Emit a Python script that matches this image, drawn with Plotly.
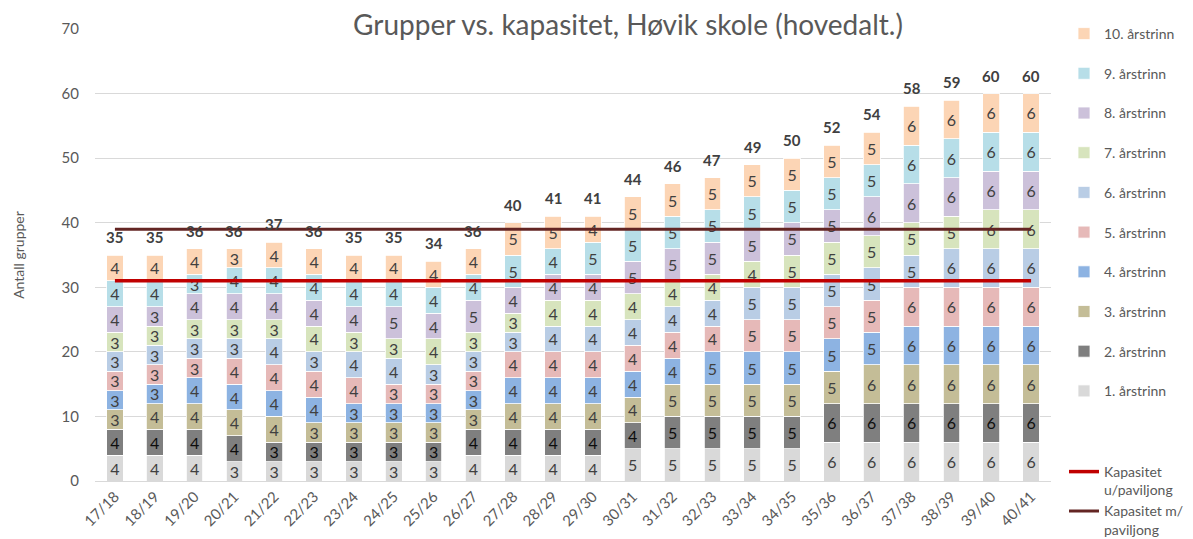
import plotly.graph_objects as go

years = ["17/18","18/19","19/20","20/21","21/22","22/23","23/24","24/25","25/26","26/27",
         "27/28","28/29","29/30","30/31","31/32","32/33","33/34","34/35","35/36","36/37",
         "37/38","38/39","39/40","40/41"]

grade_names = ["1. årstrinn","2. årstrinn","3. årstrinn","4. årstrinn","5. årstrinn",
               "6. årstrinn","7. årstrinn","8. årstrinn","9. årstrinn","10. årstrinn"]

g1  = [4,4,4,3,3,3,3,3,3,4,4,4,4,5,5,5,5,5,6,6,6,6,6,6]
g2  = [4,4,4,4,3,3,3,3,3,4,4,4,4,4,5,5,5,5,6,6,6,6,6,6]
g3  = [3,4,4,4,4,3,3,3,3,3,4,4,4,4,5,5,5,5,5,6,6,6,6,6]
g4  = [3,3,4,4,4,4,3,3,3,3,4,4,4,4,4,5,5,5,5,5,6,6,6,6]
g5  = [3,3,3,4,4,4,4,3,3,3,4,4,4,4,4,4,5,5,5,5,6,6,6,6]
g6  = [3,3,3,3,4,3,4,4,3,3,3,4,4,4,4,4,5,5,5,5,5,6,6,6]
g7  = [3,3,3,3,3,4,3,3,4,3,3,4,4,4,4,4,4,5,5,5,5,5,6,6]
g8  = [4,3,4,4,4,4,4,5,4,5,4,4,4,5,5,5,5,5,5,6,6,6,6,6]
g9  = [4,4,3,4,4,4,4,4,4,4,5,4,5,5,5,5,5,5,5,5,6,6,6,6]
g10 = [4,4,4,3,4,4,4,4,4,4,5,5,4,5,5,5,5,5,5,5,6,6,6,6]

totals = [35,35,36,36,37,36,35,35,34,36,40,41,41,44,46,47,49,50,52,54,58,59,60,60]

cap_u = [31]*24
cap_m = [39]*24

grades = [g1, g2, g3, g4, g5, g6, g7, g8, g9, g10]
colors = ["#d9d9d9","#7f7f7f","#c4bd97","#8db3e2","#e6b9b8",
          "#b9cde5","#d7e4bd","#ccc1da","#b7dee8","#fcd5b5"]
text_colors = ["#404040","#0d0d0d"] + ["#404040"]*8

FONT = "Lato, Open Sans, sans-serif"

fig = go.Figure()
for i, (vals, name) in enumerate(zip(grades, grade_names)):
    fig.add_trace(go.Bar(
        x=years, y=vals, name=name,
        marker=dict(color=colors[i], line=dict(color="white", width=0.8)),
        text=vals, textposition="inside", insidetextanchor="middle",
        constraintext="none",
        textfont=dict(size=16, color=text_colors[i], family=FONT),
        legendrank=100 - i, legendgroup=name, legend="legend",
        hoverinfo="skip",
    ))

fig.add_trace(go.Scatter(
    x=years, y=cap_u, mode="lines", name="Kapasitet<br>u/paviljong",
    line=dict(color="#c00000", width=3.5), legendgroup="cu", legend="legend2",
    hoverinfo="skip",
))
fig.add_trace(go.Scatter(
    x=years, y=cap_m, mode="lines", name="Kapasitet m/<br>paviljong",
    line=dict(color="#632523", width=3), legendgroup="cm", legend="legend2",
    hoverinfo="skip",
))

for yr, t in zip(years, totals):
    fig.add_annotation(x=yr, y=t, text=f"<b>{t}</b>", showarrow=False,
                       yanchor="middle", yshift=18,
                       font=dict(size=15, color="#404040", family=FONT))

fig.update_layout(
    width=1193, height=539,
    barmode="stack", bargap=0.58,
    plot_bgcolor="white", paper_bgcolor="white",
    margin=dict(l=87, r=150, t=21, b=66, autoexpand=False),
    font=dict(family=FONT, color="#595959", size=14),
    title=dict(text="Grupper vs. kapasitet, Høvik skole (hovedalt.)",
               font=dict(size=28, color="#595959", family=FONT),
               x=0.5575, xref="paper", xanchor="center",
               y=1 - 17/539, yref="container", yanchor="middle"),
    xaxis=dict(tickangle=-45, tickfont=dict(size=15, color="#595959"),
               showgrid=False, showline=True, linecolor="#d9d9d9", ticks="",
               automargin=False),
    yaxis=dict(range=[0, 70], dtick=10, showgrid=True, gridcolor="#d9d9d9",
               tickfont=dict(size=15, color="#595959"), zeroline=False,
               ticks="outside", ticklen=12, tickcolor="rgba(0,0,0,0)",
               automargin=False,
               title=dict(text="Antall grupper", font=dict(size=14, color="#595959"),
                          standoff=33)),
    legend=dict(x=1.0136, xanchor="left", y=1 - 10/539, yref="container", yanchor="top",
                traceorder="grouped", tracegroupgap=18.5, valign="middle",
                maxheight=500,
                font=dict(size=14, color="#595959"), itemwidth=30),
    legend2=dict(x=1.0136, xanchor="left", y=1 - 448/539, yref="container", yanchor="top",
                 traceorder="grouped", tracegroupgap=0, valign="top",
                 maxheight=200,
                 font=dict(size=14, color="#595959"), itemwidth=30),
    showlegend=True,
)

fig.write_html("out.html")
